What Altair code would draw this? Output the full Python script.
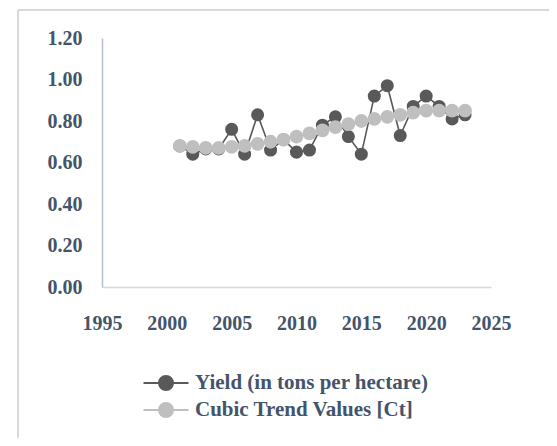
import altair as alt
import pandas as pd

years = list(range(2001, 2024))
yield_vals = [0.68, 0.64, 0.665, 0.665, 0.76, 0.64, 0.83, 0.66, 0.71, 0.65, 0.66, 0.78,
              0.82, 0.725, 0.64, 0.92, 0.97, 0.73, 0.87, 0.92, 0.87, 0.81, 0.83]
trend_vals = [0.68, 0.675, 0.67, 0.67, 0.675, 0.68, 0.69, 0.70, 0.71, 0.725, 0.74, 0.755,
              0.77, 0.785, 0.80, 0.81, 0.82, 0.83, 0.84, 0.85, 0.85, 0.85, 0.85]
series_names = ["Yield (in tons per hectare)", "Cubic Trend Values [Ct]"]
series_colors = ["#595959", "#bfbfbf"]
x_ticks = [1995, 2000, 2005, 2010, 2015, 2020, 2025]
y_ticks = [0.0, 0.2, 0.4, 0.6, 0.8, 1.0, 1.2]

df = pd.DataFrame({
    "Year": years * 2,
    "Value": yield_vals + trend_vals,
    "Series": [series_names[0]] * len(years) + [series_names[1]] * len(years),
})

FONT = "Liberation Serif"
TXT = "#44546a"

color_scale = alt.Scale(domain=series_names, range=series_colors)
sym = "M-2.25,0L2.25,0M-0.7,0A0.7,0.7,0,1,1,0.7,0A0.7,0.7,0,1,1,-0.7,0Z"

x_enc = alt.X("Year:Q", scale=alt.Scale(domain=[1995, 2025], nice=False, zero=False),
              axis=alt.Axis(values=x_ticks, format="d", title=None, grid=False, ticks=False,
                            domainColor="#d9d9d9", domainWidth=1.5, labelPadding=26,
                            labelFont=FONT, labelFontWeight="bold", labelFontSize=20,
                            labelColor=TXT, labelFlush=False, zindex=1))
y_enc = alt.Y("Value:Q", scale=alt.Scale(domain=[0, 1.2], nice=False),
              axis=alt.Axis(values=y_ticks, format=".2f", title=None, grid=False, ticks=False,
                            domainColor="#b4bfd6", domainWidth=1.5, labelPadding=20,
                            labelFont=FONT, labelFontWeight="bold", labelFontSize=20,
                            labelColor=TXT, zindex=1))

legend = alt.Legend(title=None, orient="none", legendX=53, legendY=334,
                    symbolType=sym, symbolSize=400,
                    symbolStrokeWidth=2, symbolOpacity=1,
                    labelFont=FONT, labelFontWeight="bold",
                    labelFontSize=21, labelColor=TXT,
                    labelOffset=18, rowPadding=5, labelLimit=400)
color_enc = alt.Color("Series:N", scale=color_scale, legend=legend)

one = pd.DataFrame({"a": [0]})
frame_top = alt.Chart(one).mark_rule(color="#d9d9d9", strokeWidth=2, clip=False).encode(
    x=alt.value(-84), x2=alt.value(600), y=alt.value(-28))
frame_left = alt.Chart(one).mark_rule(color="#d9d9d9", strokeWidth=2, clip=False).encode(
    x=alt.value(-84), y=alt.value(-28), y2=alt.value(500))

layers = [frame_top, frame_left]
for i, name in enumerate(series_names):
    d = df[df["Series"] == name]
    base = alt.Chart(d)
    line = base.mark_line(strokeWidth=1.6).encode(x=x_enc, y=y_enc, color=color_enc)
    pts = base.mark_point(filled=True, size=170 if i == 0 else 190, opacity=1).encode(
        x=x_enc, y=y_enc, color=color_enc)
    layers += [line, pts]

chart = alt.layer(*layers).properties(
    width=389, height=249,
    autosize=alt.AutoSizeParams(type="none"),
    padding={"left": 94, "top": 30, "right": 58, "bottom": 151},
).configure_view(stroke=None)

chart.save("out.html", embed_options={"renderer": "svg", "actions": False})
